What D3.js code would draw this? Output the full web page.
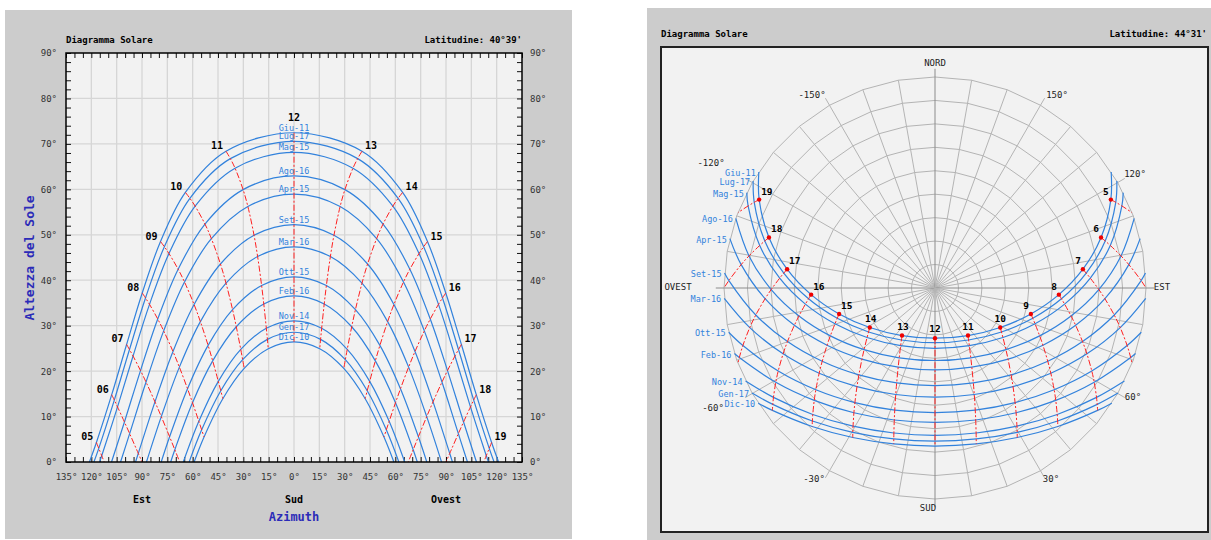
<!DOCTYPE html>
<html><head><meta charset="utf-8">
<script src="https://cdnjs.cloudflare.com/ajax/libs/d3/7.8.5/d3.min.js"></script>
<style>body{margin:0;background:#fff}svg{display:block}</style>
</head><body><svg id="c" width="1211" height="540"></svg>
<script>
// ---------------- DATA ----------------
const dates = ["Giu-11","Lug-17","Mag-15","Ago-16","Apr-15","Set-15","Mar-16","Ott-15","Feb-16","Nov-14","Gen-17","Dic-10"];
const hoursPM = [12,13,14,15,16,17,18,19];   // solar hours (morning mirrors: 12,11,...,5)

// Left chart – Latitudine 40°39'  (altitude / azimuth-from-south at each hour, null = sun below horizon)
const altL = [
 [72.45,68.39,59.32,48.51,37.20,25.86,14.81,4.30],
 [70.55,66.76,58.02,47.37,36.10,24.75,13.63,3.01],
 [68.15,64.65,56.30,45.87,34.69,23.32,12.12,1.38],
 [62.95,59.94,52.36,42.42,31.46,20.12,8.81,null],
 [58.95,56.23,49.16,39.61,28.86,17.59,6.24,null],
 [52.25,49.90,43.57,34.66,24.32,13.24,1.89,null],
 [47.35,45.21,39.34,30.89,20.88,9.99,null,null],
 [40.75,38.84,33.52,25.66,16.12,5.55,null,null],
 [36.55,34.77,29.76,22.26,13.04,2.70,null,null],
 [31.05,29.42,24.79,17.75,8.95,null,null,null],
 [28.55,26.99,22.51,15.68,7.08,null,null,null],
 [26.45,24.94,20.60,13.93,5.51,null,null,null]
];
const azL = [
 [0,40.26,64.31,79.03,89.86,99.12,107.93,117.00],
 [0,37.69,61.64,76.76,87.92,97.41,106.40,115.60],
 [0,34.90,58.54,74.03,85.55,95.30,104.48,113.85],
 [0,30.14,52.72,68.60,80.68,90.89,100.40,null],
 [0,27.32,48.92,64.83,77.16,87.61,97.31,null],
 [0,23.66,43.56,59.16,71.65,82.33,92.20,null],
 [0,21.54,40.25,55.44,67.87,78.58,null,null],
 [0,19.18,36.37,50.86,63.04,73.65,null,null],
 [0,17.89,34.17,48.16,60.10,70.56,null,null],
 [0,16.38,31.53,44.82,56.34,null,null,null],
 [0,15.75,30.40,43.36,54.67,null,null,null],
 [0,15.24,29.48,42.15,53.27,null,null,null]
];
const sunsetAzL = [121.14,118.47,115.14,108.05,102.70,93.82,87.36,78.63,73.02,65.55,62.09,59.14];
const hourHorizonAzL = [null,null,null,null,null,67.65,90.0,112.36];

// Right chart – Latitudine 44°31'
const altR = [
 [68.58,65.31,57.47,47.63,37.09,26.41,15.97,6.05],
 [66.68,63.60,56.02,46.35,35.87,25.19,14.69,4.67],
 [64.28,61.40,54.15,44.69,34.29,23.62,13.06,2.94],
 [59.08,56.54,49.91,40.91,30.76,20.13,9.49,null],
 [55.08,52.75,46.54,37.88,27.93,17.39,6.72,null],
 [48.38,46.33,40.71,32.62,23.05,12.70,2.03,null],
 [43.48,41.59,36.35,28.65,19.38,9.21,null,null],
 [36.88,35.18,30.38,23.18,14.34,4.45,null,null],
 [32.68,31.08,26.54,19.65,11.09,1.41,null,null],
 [27.18,25.71,21.48,14.98,6.80,null,null,null],
 [24.68,23.26,19.16,12.85,4.84,null,null,null],
 [22.58,21.20,17.22,11.05,3.19,null,null,null]
];
const azR = [
 [0,34.75,58.78,74.84,86.93,97.24,106.92,116.69],
 [0,32.86,56.52,72.78,85.12,95.62,105.46,115.37],
 [0,30.78,53.91,70.31,82.90,93.63,103.64,113.71],
 [0,27.15,48.99,65.43,78.38,89.47,99.79,null],
 [0,24.94,45.78,62.05,75.13,86.39,96.88,null],
 [0,21.99,41.20,56.97,70.04,81.44,92.07,null],
 [0,20.24,38.34,53.64,66.56,77.94,null,null],
 [0,18.25,34.96,49.51,62.11,73.33,null,null],
 [0,17.14,33.03,47.07,59.38,70.43,null,null],
 [0,15.83,30.67,44.02,55.90,null,null,null],
 [0,15.27,29.66,42.69,54.34,null,null,null],
 [0,14.82,28.82,41.58,53.03,null,null,null]
];
const sunsetAzR = [123.38,120.48,116.87,109.25,103.53,94.07,87.19,77.89,71.90,63.87,60.13,56.92];
const hourHorizonAzR = [null,null,null,null,null,69.09,90.0,110.92];

const polarLabels = ["NORD","-150°","150°","-120°","120°","OVEST","EST","-60°","60°","-30°","30°","SUD"];

// ---------------- HELPERS ----------------
const MONO = '"DejaVu Sans Mono", monospace';
const BLUE = "#3282dc", RED = "#ff2020", AXT = "#2b2bb8";
function dayPoints(alt, az, ss){
  const pa=[];
  for(let k=0;k<alt.length;k++){ if(alt[k]==null) break; pa.push([az[k],alt[k]]); }
  pa.push([ss,0]);
  const am = pa.slice(1).reverse().map(p=>[-p[0],p[1]]);
  return am.concat(pa);
}
function hourPoints(k, alt, az, hz){
  const pts=[];
  for(let i=0;i<alt.length;i++){ if(alt[i][k]!=null) pts.push([az[i][k],alt[i][k]]); }
  if(hz[k]!=null) pts.push([hz[k],0]);
  return pts;
}
function txt(g,x,y,s,o){
  o=o||{};
  return g.append("text").attr("x",x).attr("y",y).text(s)
   .attr("font-family",MONO).attr("font-size",o.size||9).attr("fill",o.fill||"#000")
   .attr("font-weight",o.bold?"bold":"normal").attr("text-anchor",o.anchor||"start");
}

const svg = d3.select("#c");
svg.append("rect").attr("x",5).attr("y",10).attr("width",567).attr("height",529).attr("fill","#cccccc");
svg.append("rect").attr("x",647).attr("y",8).attr("width",564).attr("height",532).attr("fill","#cccccc");

// ---------------- LEFT CHART ----------------
const x = d3.scaleLinear().domain([-135,135]).range([66,522]);
const y = d3.scaleLinear().domain([0,90]).range([462,53]);
const gl = svg.append("g");
gl.append("rect").attr("x",x(-135)).attr("y",y(90)).attr("width",x(135)-x(-135)).attr("height",y(0)-y(90)).attr("fill","#f2f2f2");
gl.append("g").selectAll("line").data(d3.range(-120,121,15)).join("line")
  .attr("x1",d=>x(d)).attr("x2",d=>x(d)).attr("y1",y(0)).attr("y2",y(90))
  .attr("stroke","#d6d6d6").attr("stroke-width",1.3);
gl.append("g").selectAll("line").data(d3.range(10,90,10)).join("line")
  .attr("y1",d=>y(d)).attr("y2",d=>y(d)).attr("x1",x(-135)).attr("x2",x(135))
  .attr("stroke","#d6d6d6").attr("stroke-width",1.3);

function styleAxis(g){
  g.select(".domain").remove();
  g.selectAll(".tick line").attr("stroke","#111");
  g.selectAll("text").attr("font-family",MONO).attr("font-size",9).attr("fill","#333");
}
const azTicks = d3.range(-135,136,5), altTicks = d3.range(0,91,2);
gl.append("g").attr("transform",`translate(0,${y(0)})`)
  .call(d3.axisBottom(x).tickValues(azTicks).tickSize(-5).tickPadding(12).tickFormat(d=>d%15===0?Math.abs(d)+"°":"")).call(styleAxis);
gl.append("g").attr("transform",`translate(0,${y(90)})`)
  .call(d3.axisTop(x).tickValues(azTicks).tickSize(-5).tickFormat("")).call(styleAxis);
gl.append("g").attr("transform",`translate(${x(-135)},0)`)
  .call(d3.axisLeft(y).tickValues(altTicks).tickSize(-5).tickPadding(9).tickFormat(d=>d%10===0?d+"°":"")).call(styleAxis);
gl.append("g").attr("transform",`translate(${x(135)},0)`)
  .call(d3.axisRight(y).tickValues(altTicks).tickSize(-5).tickPadding(8).tickFormat(d=>d%10===0?d+"°":"")).call(styleAxis);

const lineL = d3.line().x(d=>x(d[0])).y(d=>y(d[1])).curve(d3.curveCatmullRom.alpha(0.5));
gl.append("g").selectAll("path").data(dates.map((d,i)=>dayPoints(altL[i],azL[i],sunsetAzL[i]))).join("path")
  .attr("d",lineL).attr("fill","none").attr("stroke",BLUE).attr("stroke-width",1.2);
const hlL=[];
hoursPM.forEach((h,k)=>{ const p=hourPoints(k,altL,azL,hourHorizonAzL); hlL.push(p); if(k>0) hlL.push(p.map(q=>[-q[0],q[1]])); });
gl.append("g").selectAll("path").data(hlL).join("path")
  .attr("d",lineL).attr("fill","none").attr("stroke",RED).attr("stroke-width",1).attr("stroke-dasharray","6,2,2,2");

gl.append("rect").attr("x",x(-135)).attr("y",y(90)).attr("width",x(135)-x(-135)).attr("height",y(0)-y(90))
  .attr("fill","none").attr("stroke","#000").attr("stroke-width",1.5);

// date labels
dates.forEach((d,i)=>txt(gl,x(0),y(altL[i][0])-2,d,{size:8.5,fill:BLUE,anchor:"middle"}));
// hour labels
hoursPM.forEach((h,k)=>{
  const a=altL[0][k], z=azL[0][k];
  if(k===0){ txt(gl,x(0),y(a)-12,"12",{size:10,bold:true,anchor:"middle"}); return; }
  txt(gl,x(z)+3,y(a)-2,String(h),{size:10,bold:true});
  txt(gl,x(-z)-3,y(a)-2,String(24-h).padStart(2,"0"),{size:10,bold:true,anchor:"end"});
});
txt(gl,66,43,"Diagramma Solare",{bold:true});
txt(gl,522,43,"Latitudine: 40°39'",{bold:true,anchor:"end"});
txt(gl,x(-90),503,"Est",{size:10,bold:true,anchor:"middle"});
txt(gl,x(0),503,"Sud",{size:10,bold:true,anchor:"middle"});
txt(gl,x(90),503,"Ovest",{size:10,bold:true,anchor:"middle"});
txt(gl,x(0),521,"Azimuth",{size:12,bold:true,fill:AXT,anchor:"middle"});
txt(gl,0,0,"Altezza del Sole",{size:13,bold:true,fill:AXT,anchor:"middle"}).attr("transform","translate(34,258) rotate(-90)");

// ---------------- RIGHT CHART ----------------
const gr = svg.append("g");
gr.append("rect").attr("x",661).attr("y",47).attr("width",547).attr("height",485)
  .attr("fill","#f2f2f2").attr("stroke","#222").attr("stroke-width",2);
txt(gr,661,37,"Diagramma Solare",{bold:true});
txt(gr,1207,37,"Latitudine: 44°31'",{bold:true,anchor:"end"});

const cx=935, cy=288, R=211;
const r = d3.scaleLinear().domain([90,0]).range([0,R]);
const proj = (az,alt)=>{ const p=d3.pointRadial(Math.PI+az*Math.PI/180, r(alt)); return [cx+p[0],cy+p[1]]; };
const poly = d3.line().curve(d3.curveLinearClosed);
gr.append("g").selectAll("path").data(d3.range(0,90,10)).join("path")
  .attr("d",a=>poly(d3.range(0,360,10).map(z=>proj(z,a))))
  .attr("fill","none").attr("stroke","#b4b4b4").attr("stroke-width",1);
gr.append("g").selectAll("line").data(d3.range(0,360,10)).join("line")
  .attr("x1",cx).attr("y1",cy)
  .attr("x2",z=>proj(z, z%30===0?-3.5:0)[0]).attr("y2",z=>proj(z, z%30===0?-3.5:0)[1])
  .attr("stroke",z=>z%90===0?"#8c8c8c":"#b4b4b4").attr("stroke-width",1);

const lineR = d3.line().x(d=>proj(d[0],d[1])[0]).y(d=>proj(d[0],d[1])[1]).curve(d3.curveCatmullRom.alpha(0.5));
gr.append("g").selectAll("path").data(dates.map((d,i)=>dayPoints(altR[i],azR[i],sunsetAzR[i]))).join("path")
  .attr("d",lineR).attr("fill","none").attr("stroke",BLUE).attr("stroke-width",1.2);
const hlR=[];
hoursPM.forEach((h,k)=>{ const p=hourPoints(k,altR,azR,hourHorizonAzR); hlR.push(p); if(k>0) hlR.push(p.map(q=>[-q[0],q[1]])); });
gr.append("g").selectAll("path").data(hlR).join("path")
  .attr("d",lineR).attr("fill","none").attr("stroke",RED).attr("stroke-width",1).attr("stroke-dasharray","6,2,2,2");

// dots + hour labels on the first date
hoursPM.forEach((h,k)=>{
  const sides = k===0?[1]:[1,-1];
  sides.forEach(s=>{
    const p=proj(s*azR[0][k],altR[0][k]);
    gr.append("circle").attr("cx",p[0]).attr("cy",p[1]).attr("r",2.2).attr("fill","#ee0000");
    const hr = s>0?h:24-h;
    let o={size:9.5,bold:true}, tx=p[0], ty=p[1]-6;
    if(k===0){ o.anchor="middle"; }
    else if(k<=2){ o.anchor="middle"; tx+= s>0?1:0; }
    else if(s>0){ tx+=2; ty=p[1]-5; }
    else { o.anchor="end"; tx-=2; ty=p[1]-5; }
    txt(gr,tx,ty,String(hr),o);
  });
});
// date labels at the sunset end
dates.forEach((d,i)=>{ const p=proj(sunsetAzR[i],0); txt(gr,p[0]-3,p[1]+4,d,{size:8.5,fill:BLUE,anchor:"end"}); });

// compass / angle labels
const plPos = [[0,-222],[-123,-190],[122,-190],[-224,-122],[200,-111],[-257,2],[227,2],[-222,123],[198,112],[-121,194],[116,194],[-7,223]];
polarLabels.forEach((s,i)=>txt(gr,cx+plPos[i][0],cy+plPos[i][1],s,{size:9,fill:"#222",anchor:"middle"}));
</script></body></html>
